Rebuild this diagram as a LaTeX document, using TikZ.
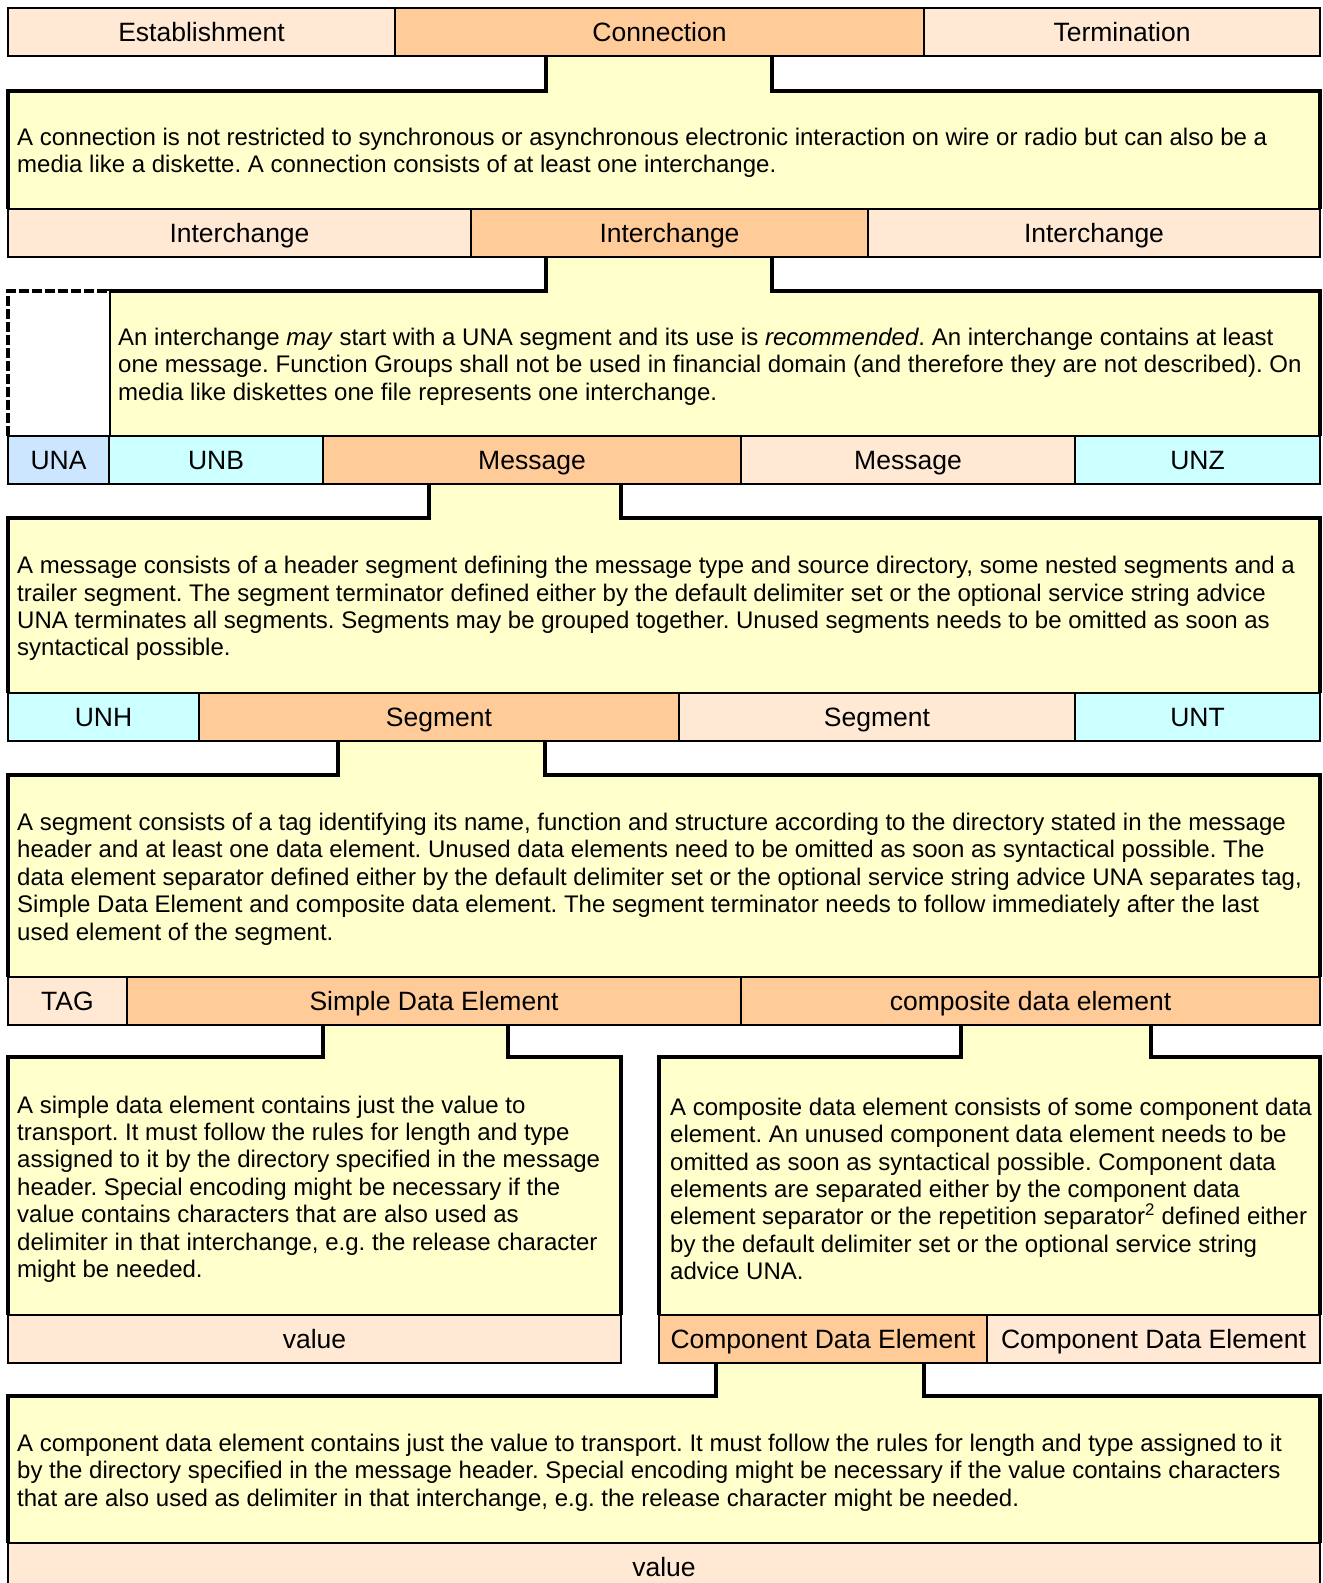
\documentclass[tikz,border=0pt]{standalone}
\usepackage{fontspec}
\setmainfont{Liberation Sans}
\usepackage{xcolor}
\usetikzlibrary{positioning}
\frenchspacing

\definecolor{peach}{HTML}{FFE9D5}
\definecolor{tan}{HTML}{FFCC99}
\definecolor{paleyellow}{HTML}{FFFFCC}
\definecolor{turquoise}{HTML}{CCFFFF}
\definecolor{skyblue}{HTML}{CCE6FF}

% frame under a cell: #1 left, #2 right, #3 bottom of row above, #4 frame top,
% #5 top of row below, #6 neck left, #7 neck right
\newcommand{\zoomframe}[7]{%
    \fill[paleyellow] (#1,#5) -- (#1,#4) -- (#6,#4) -- (#6,#3) -- (#7,#3) -- (#7,#4) -- (#2,#4) -- (#2,#5) -- cycle;
    \draw[frame] (#1,#5) -- (#1,#4) -- (#6,#4) -- (#6,#3);
    \draw[frame] (#7,#3) -- (#7,#4) -- (#2,#4) -- (#2,#5);
}

\begin{document}
\begin{tikzpicture}[
    x=1pt, y=-1pt,
    cell/.style={draw, line width=2pt, inner sep=0pt, outer sep=0pt, minimum height=48pt,
        text height=19pt, text depth=0pt, font=\fontsize{26.5}{30}\selectfont},
    first/.style={cell, anchor=north west},
    frame/.style={line width=3.5pt},
    desc/.style={anchor=west, inner sep=0pt, align=left, yshift=-3pt, font=\fontsize{24}{27.4}\selectfont}
]
    \useasboundingbox (0,0) rectangle (1323,1583);
    \clip (0,0) rectangle (1323,1583);

    % Frames
    \zoomframe{8}{1320}{56}{91}{209}{546}{772}
    \zoomframe{109}{1320}{257}{291}{436}{546}{772}
    \fill[white] (8,291) rectangle (109,436);
    \draw[frame, dash pattern=on 10pt off 3pt] (8,436) -- (8,291) -- (109,291);
    \zoomframe{8}{1320}{484}{518}{693}{429}{621}
    \zoomframe{8}{1320}{741}{775}{977}{338}{545}
    \zoomframe{8}{621}{1025}{1057}{1315}{323}{508}
    \zoomframe{659}{1320}{1025}{1057}{1315}{961}{1151}
    \zoomframe{8}{1320}{1363}{1396}{1543}{716}{924}

    % Connection level
    \node[first, fill=peach, minimum width=387pt] (est) at (8,8) {Establishment};
    \node[cell, fill=tan, minimum width=529pt, right=0pt of est] (conn) {Connection};
    \node[cell, fill=peach, minimum width=396pt, right=0pt of conn] (term) {Termination};

    \node[desc] (conntext) at (17,150) {A connection is not restricted to synchronous or asynchronous electronic interaction on wire or radio but can also be a\\
        media like a diskette. A connection consists of at least one interchange.};

    % Interchange level
    \node[first, fill=peach, minimum width=463pt] (ich1) at (8,209) {Interchange};
    \node[cell, fill=tan, minimum width=397pt, right=0pt of ich1] (ich2) {Interchange};
    \node[cell, fill=peach, minimum width=452pt, right=0pt of ich2] (ich3) {Interchange};

    \node[desc] (ichtext) at (118,363.5) {An interchange \textit{may} start with a UNA segment and its use is \textit{recommended}. An interchange contains at least\\
        one message. Function Groups shall not be used in financial domain (and therefore they are not described). On\\
        media like diskettes one file represents one interchange.};

    % Message level
    \node[first, fill=skyblue, minimum width=101pt] (una) at (8,436) {UNA};
    \node[cell, fill=turquoise, minimum width=214pt, right=0pt of una] (unb) {UNB};
    \node[cell, fill=tan, minimum width=418pt, right=0pt of unb] (msg1) {Message};
    \node[cell, fill=peach, minimum width=334pt, right=0pt of msg1] (msg2) {Message};
    \node[cell, fill=turquoise, minimum width=245pt, right=0pt of msg2] (unz) {UNZ};

    \node[desc] (msgtext) at (17,605.5) {A message consists of a header segment defining the message type and source directory, some nested segments and a\\
        trailer segment. The segment terminator defined either by the default delimiter set or the optional service string advice\\
        UNA terminates all segments. Segments may be grouped together. Unused segments needs to be omitted as soon as\\
        syntactical possible.};

    % Segment level
    \node[first, fill=turquoise, minimum width=191pt] (unh) at (8,693) {UNH};
    \node[cell, fill=tan, minimum width=480pt, right=0pt of unh] (seg1) {Segment};
    \node[cell, fill=peach, minimum width=396pt, right=0pt of seg1] (seg2) {Segment};
    \node[cell, fill=turquoise, minimum width=245pt, right=0pt of seg2] (unt) {UNT};

    \node[desc] (segtext) at (17,876) {A segment consists of a tag identifying its name, function and structure according to the directory stated in the message\\
        header and at least one data element. Unused data elements need to be omitted as soon as syntactical possible. The\\
        data element separator defined either by the default delimiter set or the optional service string advice UNA separates tag,\\
        Simple Data Element and composite data element. The segment terminator needs to follow immediately after the last\\
        used element of the segment.};

    % Data element level
    \node[first, fill=peach, minimum width=119pt] (tag) at (8,977) {TAG};
    \node[cell, fill=tan, minimum width=614pt, right=0pt of tag] (sde) {Simple Data Element};
    \node[cell, fill=tan, minimum width=579pt, right=0pt of sde] (cde) {composite data element};

    \node[desc] (sdetext) at (17,1186) {A simple data element contains just the value to\\
        transport. It must follow the rules for length and type\\
        assigned to it by the directory specified in the message\\
        header. Special encoding might be necessary if the\\
        value contains characters that are also used as\\
        delimiter in that interchange, e.g. the release character\\
        might be needed.};
    \node[desc] (cdetext) at (670,1186) {A composite data element consists of some component data\\
        element. An unused component data element needs to be\\
        omitted as soon as syntactical possible. Component data\\
        elements are separated either by the component data\\
        element separator or the repetition separator\textsuperscript{2} defined either\\
        by the default delimiter set or the optional service string\\
        advice UNA.};

    % Values and components
    \node[first, fill=peach, minimum width=613pt] (val1) at (8,1315) {value};
    \node[first, fill=tan, minimum width=328pt] (comp1) at (659,1315) {Component Data Element};
    \node[cell, fill=peach, minimum width=333pt, right=0pt of comp1] (comp2) {Component Data Element};

    \node[desc] (comptext) at (17,1469.5) {A component data element contains just the value to transport. It must follow the rules for length and type assigned to it\\
        by the directory specified in the message header. Special encoding might be necessary if the value contains characters\\
        that are also used as delimiter in that interchange, e.g. the release character might be needed.};

    \node[first, fill=peach, minimum width=1312pt] (val2) at (8,1543) {value};
\end{tikzpicture}
\end{document}
